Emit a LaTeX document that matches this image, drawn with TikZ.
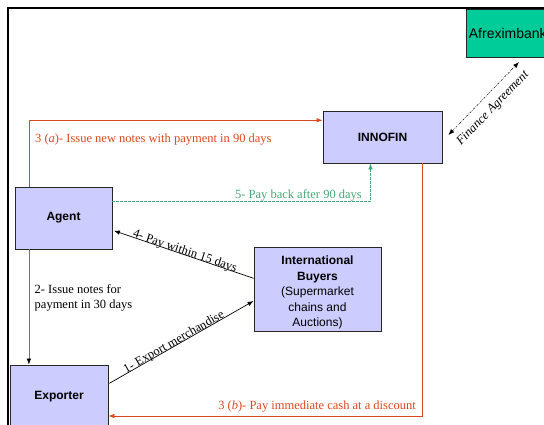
\documentclass[tikz,border=0pt]{standalone}
\usepackage{fontspec}
\setmainfont{Liberation Serif}
\setsansfont{Liberation Sans}
\usetikzlibrary{arrows.meta,calc}
\definecolor{boxblue}{RGB}{204,204,255}
\definecolor{boxgreen}{RGB}{0,204,153}
\definecolor{redline}{RGB}{222,72,30}
\definecolor{greenline}{RGB}{66,170,118}
\tikzset{
  entity/.style={draw=black!85, line width=0.8pt, fill=boxblue, inner sep=2pt,
    font=\sffamily\fontsize{12}{15.5}\selectfont, align=center},
  lbl/.style={inner sep=0pt, font=\fontsize{12.5}{15.5}\selectfont},
  tip/.style={-{Latex[length=6pt,width=4.5pt]}},
  redarrow/.style={tip, draw=redline, line width=0.8pt},
  blackarrow/.style={tip, draw=black, line width=0.7pt},
}
\begin{document}
\begin{tikzpicture}[x=1pt,y=-1pt]
\useasboundingbox (0,0) rectangle (544,425);
\clip (0,0) rectangle (544,425);
\fill[white] (0,0) rectangle (544,425);
% frame
\draw[line width=2.2pt] (8.3,430) -- (8.3,8.3) -- (550,8.3);
% nodes
\node[entity, minimum width=119pt, minimum height=52pt, font=\sffamily\bfseries\fontsize{12}{15.5}\selectfont] (innofin) at (382.5,137) {INNOFIN};
\node[entity, minimum width=97pt, minimum height=62pt, font=\sffamily\bfseries\fontsize{12}{15.5}\selectfont] (agent) at (63.5,218) {Agent};
\node[entity, minimum width=127pt, minimum height=83pt] (buyers) at (317.5,289.5) {\rule{0pt}{15pt}\textbf{International}\\\textbf{Buyers}\\(Supermarket\\chains and\\Auctions)};
\node[entity, minimum width=98pt, minimum height=63pt, font=\sffamily\bfseries\fontsize{12}{15.5}\selectfont] (exporter) at (59,396.5) {Exporter};
\node[entity, fill=boxgreen, anchor=west, minimum height=48pt, text width=100pt, align=left, inner xsep=3pt, font=\sffamily\fontsize{14}{16}\selectfont] (afrex) at (465.5,33.3) {Afreximbank};
% 3(a)
\draw[redarrow] ($(agent.north west)+(14.5,0)$) |- ($(innofin.north west)+(0,9.7)$);
\node[lbl, text=redline, anchor=base west] (l3a) at (35,142.5) {3 (\textit{a})- Issue new notes with payment in 90 days};
% 3(b)
\draw[redarrow] ($(innofin.south east)+(-20.3,0)$) |- ($(exporter.east)+(0,19.5)$);
\node[lbl, text=redline, anchor=base east] (l3b) at (416,409) {3 (\textit{b})- Pay immediate cash at a discount};
% 5
\draw[tip, draw=greenline, line width=0.6pt, dash pattern=on 2.5pt off 1.5pt] ($(agent.east)+(0,-16.3)$) -| ($(innofin.south)+(-12,0)$);
\node[lbl, text=greenline, anchor=base east] (l5) at (362,199) {5- Pay back after 90 days};
% 4
\draw[blackarrow, {Latex[length=6pt,width=4.5pt]}-] ($(agent.east)+(1.5,12.7)$) -- ($(buyers.west)+(0,-11.2)$)
  node[lbl, midway, sloped, anchor=base, yshift=0.3pt] (l4) {4- Pay within 15 days};
% 1
\draw[blackarrow] ($(exporter.east)+(1,-13.2)$) -- ($(buyers.west)+(0,11.5)$)
  node[lbl, pos=0.46, sloped, anchor=base, yshift=0.3pt] (l1) {1- Export merchandise};
% 2
\draw[-{Latex[length=6pt,width=4.5pt,color=black]}, draw=black!55, line width=0.7pt] ($(agent.south west)+(14.3,0)$) -- ($(exporter.north west)+(19.3,0)$);
\node[lbl, anchor=base west, align=left] (l2) at (34.5,308.5) {2- Issue notes for\\payment in 30 days};
% finance agreement
\draw[{Latex[length=6pt,width=4.5pt]}-{Latex[length=6pt,width=4.5pt]}, line width=0.5pt, dash pattern=on 2pt off 1.2pt on 0.6pt off 1.2pt] ($(innofin.east)+(6,-2)$) -- ($(afrex.south west)+(53.5,4.4)$);
\node[lbl, rotate=45.9, font=\itshape\fontsize{12.5}{15}\selectfont] (lfa) at (493,108.5) {Finance Agreement};
\end{tikzpicture}
\end{document}
